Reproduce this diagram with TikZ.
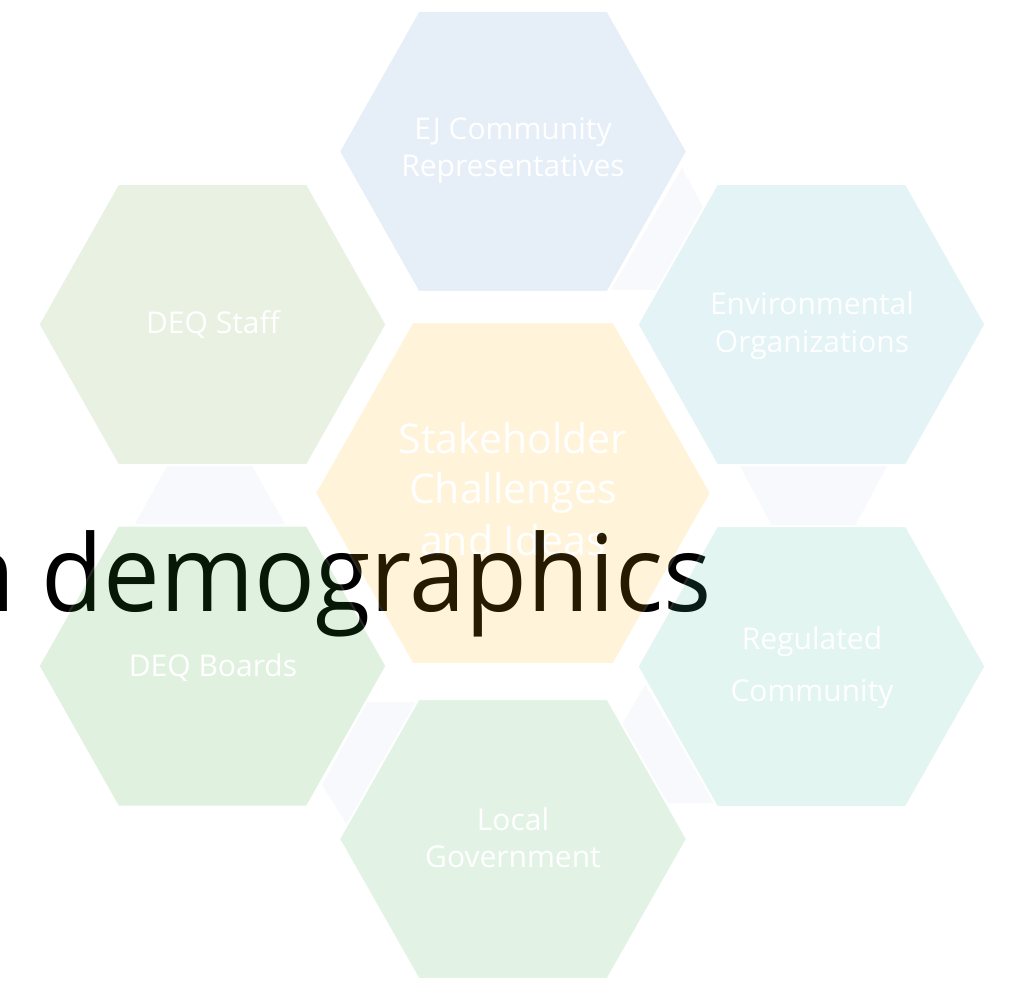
\documentclass[tikz,border=0pt]{standalone}
\usepackage{fontspec}
\setmainfont{Open Sans}
\usepackage{graphicx}
\definecolor{ejc}{RGB}{88,142,202}
\definecolor{envc}{RGB}{68,175,195}
\definecolor{staffc}{RGB}{102,162,62}
\definecolor{boardc}{RGB}{55,163,48}
\definecolor{regc}{RGB}{62,189,155}
\definecolor{localc}{RGB}{62,175,88}
\definecolor{centc}{RGB}{255,182,0}
\definecolor{connc}{RGB}{247,249,252}
\tikzset{
  hexp/.style n args={5}{insert path={({#1-#3},{#2}) -- ({#1-#5},{#2-#4}) -- ({#1+#5},{#2-#4}) -- ({#1+#3},{#2}) -- ({#1+#5},{#2+#4}) -- ({#1-#5},{#2+#4}) -- cycle}},
  hexlayer/.style={transparency group, opacity=0.15},
  hexedge/.style={draw=white, line width=2pt, line join=miter},
  conn/.style={fill=connc},
  lbl/.style={text=white, inner sep=0pt, anchor=base, font=\fontsize{30}{37}\selectfont},
  biglbl/.style={text=white, inner sep=0pt, anchor=base, font=\fontsize{41}{50}\selectfont},
  overtext/.style={text=black, inner sep=0pt, anchor=base east, font=\fontsize{106.5}{120}\selectfont}
}
\begin{document}
\begin{tikzpicture}[x=1pt,y=-1pt]
\fill[white] (0,0) rectangle (1011,981);
\useasboundingbox (0,0) rectangle (1011,981);
% connecting shapes
\fill[conn] (682,168) -- (730,257) -- (700,290) -- (611,290) -- cycle;
\fill[conn] (740,466) -- (887,466) -- (855,526) -- (772,526) -- cycle;
\fill[conn] (645,685) -- (715,803) -- (640,803) -- (600,763) -- cycle;
\fill[conn] (367,702) -- (420,702) -- (360,845) -- (322,785) -- cycle;
\fill[conn] (167,466) -- (252,466) -- (285,524) -- (135,524) -- cycle;
% white underlays hiding the covered parts of the connecting shapes
\path[fill=white, hexedge, hexp={513}{151.5}{174}{140.5}{94.5}];
\path[fill=white, hexedge, hexp={811.5}{324.5}{174}{140.5}{94.5}];
\path[fill=white, hexedge, hexp={212.5}{324.5}{174}{140.5}{94.5}];
\path[fill=white, hexedge, hexp={212.5}{666}{174}{140.5}{94.5}];
\path[fill=white, hexedge, hexp={811.5}{666.5}{174}{140.5}{94.5}];
\path[fill=white, hexedge, hexp={513}{839}{174}{140}{94.5}];
\path[fill=white, hexedge, hexp={513}{493}{198}{171}{100.5}];
% overlapping text
\node[overtext] (demo) at (712,611) {\scalebox{0.949}[1]{n demographics}};
% hexagons
\begin{scope}[hexlayer]
  \path[fill=ejc, hexedge, hexp={513}{151.5}{174}{140.5}{94.5}];
  \node[lbl] (ej1) at (513,140) {EJ Community};
  \node[lbl] (ej2) at (513,177) {Representatives};
\end{scope}
\begin{scope}[hexlayer]
  \path[fill=envc, hexedge, hexp={811.5}{324.5}{174}{140.5}{94.5}];
  \node[lbl] (env1) at (812,315) {Environmental};
  \node[lbl] (env2) at (812,352) {Organizations};
\end{scope}
\begin{scope}[hexlayer]
  \path[fill=staffc, hexedge, hexp={212.5}{324.5}{174}{140.5}{94.5}];
  \node[lbl] (staff) at (213,334) {DEQ Staff};
\end{scope}
\begin{scope}[hexlayer]
  \path[fill=boardc, hexedge, hexp={212.5}{666}{174}{140.5}{94.5}];
  \node[lbl] (boards) at (213,676) {DEQ Boards};
\end{scope}
\begin{scope}[hexlayer]
  \path[fill=regc, hexedge, hexp={811.5}{666.5}{174}{140.5}{94.5}];
  \node[lbl] (reg1) at (812,649) {Regulated};
  \node[lbl] (reg2) at (812,701) {Community};
\end{scope}
\begin{scope}[hexlayer]
  \path[fill=localc, hexedge, hexp={513}{839}{174}{140}{94.5}];
  \node[lbl] (loc1) at (513,830) {Local};
  \node[lbl] (loc2) at (513,867) {Government};
\end{scope}
\begin{scope}[hexlayer]
  \path[fill=centc, hexedge, hexp={513}{493}{198}{171}{100.5}];
  \node[biglbl] (c1) at (513,453) {Stakeholder};
  \node[biglbl] (c2) at (513,503.5) {Challenges};
  \node[biglbl] (c3) at (513,555) {and Ideas};
\end{scope}
\end{tikzpicture}
\end{document}
